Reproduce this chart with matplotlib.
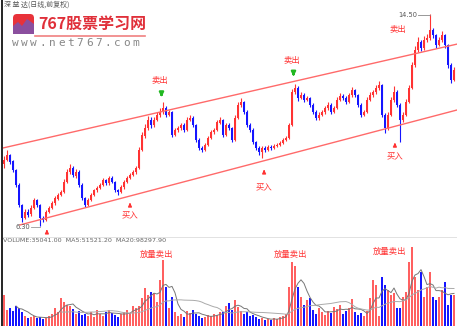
import numpy as np
import pandas as pd
import matplotlib
matplotlib.use("Agg")
import matplotlib.pyplot as plt
from matplotlib.patches import FancyBboxPatch, Polygon

plt.rcParams['font.family'] = ['Noto Sans CJK SC', 'DejaVu Sans']

# daily candles (price)
OPEN = [8.70, 8.85, 9.05, 8.80, 8.45, 7.90, 7.10, 6.62, 6.85, 6.75,
        7.00, 7.30, 7.10, 6.62, 6.55, 6.85, 7.00, 7.18, 7.36, 7.50,
        7.62, 8.00, 8.38, 8.55, 8.25, 8.40, 7.90, 7.38, 7.12, 7.30,
        7.50, 7.68, 7.78, 7.90, 8.08, 7.96, 8.16, 8.00, 7.70, 7.62,
        7.80, 8.00, 8.15, 8.27, 8.38, 8.55, 9.24, 9.80, 10.08, 10.40,
        10.20, 10.40, 10.58, 10.70, 10.87, 10.60, 10.70, 9.82, 10.02, 10.08,
        10.21, 10.02, 10.40, 10.48, 10.20, 9.63, 9.32, 9.25, 9.44, 9.70,
        9.94, 10.02, 10.30, 10.40, 9.82, 10.21, 10.09, 9.63, 10.48, 10.98,
        11.10, 10.71, 10.21, 10.02, 9.55, 9.32, 9.16, 9.32, 9.24, 9.36,
        9.32, 9.40, 9.44, 9.51, 9.63, 9.71, 10.21, 11.49, 11.64, 11.25,
        11.37, 11.18, 11.25, 10.98, 10.71, 10.48, 10.60, 10.71, 10.87, 10.98,
        10.71, 10.87, 11.18, 11.33, 11.25, 11.10, 11.37, 11.56, 11.37, 10.98,
        10.60, 10.71, 11.18, 11.37, 11.49, 11.64, 11.76, 10.60, 10.09, 10.60,
        11.18, 11.49, 10.98, 10.40, 10.60, 11.10, 11.64, 12.53, 13.11, 13.42,
        13.19, 13.50, 13.58, 13.89, 13.69, 13.30, 13.50, 13.69, 13.30, 12.53,
        11.95]
CLOSE = [8.85, 9.05, 8.78, 8.47, 7.89, 7.11, 6.61, 6.84, 6.73, 7.00,
         7.31, 7.11, 6.61, 6.53, 6.84, 7.00, 7.19, 7.38, 7.50, 7.62,
         8.00, 8.39, 8.54, 8.27, 8.39, 7.89, 7.38, 7.11, 7.31, 7.50,
         7.69, 7.77, 7.89, 8.08, 7.96, 8.16, 8.00, 7.69, 7.62, 7.81,
         8.00, 8.16, 8.27, 8.39, 8.54, 9.24, 9.82, 10.09, 10.40, 10.21,
         10.40, 10.60, 10.71, 10.87, 10.60, 10.71, 9.82, 10.02, 10.09, 10.21,
         10.02, 10.40, 10.48, 10.21, 9.63, 9.32, 9.24, 9.44, 9.71, 9.94,
         10.02, 10.32, 10.40, 9.82, 10.21, 10.09, 9.63, 10.48, 10.98, 11.10,
         10.71, 10.21, 10.02, 9.55, 9.32, 9.16, 9.32, 9.24, 9.36, 9.32,
         9.40, 9.44, 9.51, 9.63, 9.71, 10.21, 11.49, 11.64, 11.25, 11.37,
         11.18, 11.25, 10.98, 10.71, 10.48, 10.60, 10.71, 10.87, 10.98, 10.71,
         10.87, 11.18, 11.33, 11.25, 11.10, 11.37, 11.56, 11.37, 10.98, 10.60,
         10.71, 11.18, 11.37, 11.49, 11.64, 11.76, 10.60, 10.09, 10.60, 11.18,
         11.49, 10.98, 10.40, 10.60, 11.10, 11.64, 12.53, 13.11, 13.42, 13.19,
         13.50, 13.58, 13.89, 13.69, 13.30, 13.50, 13.69, 13.30, 12.53, 11.95,
         12.34]
HIGH = [9.00, 9.25, 9.10, 8.85, 8.50, 7.95, 7.15, 6.95, 6.95, 7.10,
        7.40, 7.35, 7.15, 6.70, 6.90, 7.08, 7.25, 7.45, 7.58, 7.70,
        8.10, 8.50, 8.70, 8.62, 8.50, 8.45, 7.95, 7.42, 7.38, 7.58,
        7.75, 7.85, 7.98, 8.15, 8.12, 8.25, 8.22, 8.05, 7.75, 7.88,
        8.08, 8.22, 8.35, 8.45, 8.62, 9.35, 9.95, 10.25, 10.55, 10.50,
        10.50, 10.70, 10.85, 11.10, 10.95, 10.80, 10.75, 10.10, 10.18, 10.30,
        10.28, 10.50, 10.60, 10.55, 10.25, 9.70, 9.40, 9.50, 9.78, 10.00,
        10.10, 10.40, 10.50, 10.45, 10.30, 10.28, 10.15, 10.60, 11.10, 11.25,
        11.15, 10.78, 10.28, 10.08, 9.60, 9.38, 9.40, 9.38, 9.42, 9.42,
        9.46, 9.50, 9.58, 9.70, 9.80, 10.30, 11.60, 11.78, 11.70, 11.50,
        11.45, 11.35, 11.30, 11.05, 10.78, 10.70, 10.80, 10.95, 11.08, 11.05,
        10.95, 11.28, 11.45, 11.40, 11.32, 11.45, 11.68, 11.62, 11.42, 11.05,
        10.80, 11.28, 11.48, 11.58, 11.75, 11.92, 11.80, 10.68, 10.70, 11.28,
        11.70, 11.55, 11.05, 10.72, 11.20, 11.75, 12.65, 13.25, 13.60, 13.50,
        13.65, 13.75, 14.50, 13.98, 13.75, 13.62, 13.85, 13.75, 13.35, 12.60,
        12.45]
LOW = [8.55, 8.80, 8.70, 8.40, 7.80, 7.05, 6.45, 6.58, 6.65, 6.70,
       6.95, 7.05, 6.30, 6.45, 6.50, 6.80, 6.95, 7.12, 7.30, 7.45,
       7.58, 7.95, 8.30, 8.20, 8.15, 7.80, 7.30, 7.05, 7.08, 7.25,
       7.45, 7.62, 7.72, 7.85, 7.90, 7.90, 7.95, 7.62, 7.50, 7.58,
       7.75, 7.95, 8.10, 8.22, 8.32, 8.50, 9.20, 9.70, 10.00, 10.10,
       10.15, 10.35, 10.50, 10.62, 10.50, 10.55, 9.75, 9.78, 9.95, 10.02,
       9.95, 9.98, 10.35, 10.15, 9.55, 9.25, 9.15, 9.20, 9.40, 9.65,
       9.88, 9.98, 10.25, 9.75, 9.78, 10.00, 9.55, 9.60, 10.45, 10.90,
       10.65, 10.15, 9.95, 9.48, 9.25, 9.05, 8.95, 9.18, 9.20, 9.26,
       9.28, 9.35, 9.40, 9.47, 9.58, 9.68, 10.18, 11.40, 11.15, 11.20,
       11.10, 11.12, 10.90, 10.65, 10.40, 10.42, 10.55, 10.65, 10.80, 10.65,
       10.66, 10.82, 11.12, 11.18, 11.02, 11.05, 11.30, 11.30, 10.90, 10.52,
       10.55, 10.66, 11.12, 11.30, 11.42, 11.58, 10.50, 9.90, 10.02, 10.55,
       11.10, 10.90, 9.55, 10.32, 10.55, 11.05, 11.60, 12.45, 13.02, 13.08,
       13.12, 13.42, 13.50, 13.58, 13.20, 13.25, 13.42, 13.20, 12.40, 11.85,
       11.90]
VOLUME = [31, 16, 18, 15, 20, 18, 14, 10, 8, 9,
          10, 8, 9, 7, 8, 10, 12, 18, 14, 28,
          24, 21, 20, 17, 12, 15, 11, 12, 10, 14,
          9, 16, 12, 10, 14, 16, 13, 11, 9, 12,
          14, 16, 13, 20, 18, 20, 28, 38, 31, 34,
          33, 24, 46, 66, 39, 18, 29, 14, 10, 12,
          9, 15, 13, 16, 12, 10, 8, 9, 11, 10,
          12, 11, 14, 14, 20, 23, 16, 26, 19, 15,
          12, 14, 10, 11, 9, 7, 8, 6, 7, 6,
          8, 7, 9, 10, 12, 39, 64, 60, 39, 29,
          21, 26, 28, 16, 12, 18, 14, 11, 15, 13,
          19, 17, 21, 12, 15, 18, 27, 14, 11, 13,
          10, 15, 28, 46, 41, 10, 49, 41, 36, 31,
          33, 18, 18, 29, 34, 64, 79, 49, 36, 54,
          29, 39, 54, 29, 26, 29, 36, 44, 21, 31,
          31]

# channel lines: (index, price) end points
UPPER_X = [-0.33, 151.0]
UPPER_Y = [9.32, 13.34]
LOWER_X = [5.3, 151.0]
LOWER_Y = [6.34, 10.79]

SELL_POINTS = [(52, 11.95, 11.40), (96, 12.69, 12.20), (131.3, 13.89, None)]
BUY_POINTS = [(14.3, None, 6.07), (42, 6.73, 7.11), (86.7, 7.81, 8.39), (130.3, 9.01, 9.43)]
VOL_SELL = [(51, 72), (95.5, 72), (128.5, 75)]

RED = '#ff3333'
BLUE = '#1515ff'

fig = plt.figure(figsize=(4.57, 3.26), dpi=100)
fig.patch.set_facecolor('white')

W, H = 457.0, 326.0
ax = fig.add_axes([3 / W, (H - 236) / H, 454 / W, 226 / H])
axv = fig.add_axes([3 / W, 0, 454 / W, 83 / H])

o = np.array(OPEN)
c = np.array(CLOSE)
hi = np.array(HIGH)
lo = np.array(LOW)
x = np.arange(len(c))
up = c >= o
colors = np.where(up, RED, BLUE)

ax.vlines(x, lo, hi, colors=colors, lw=0.8)
body = np.where(np.abs(c - o) < 0.03, 0.03, c - o)
ax.bar(x, body, bottom=o, width=0.75, color=colors, linewidth=0)

ax.plot(UPPER_X, UPPER_Y, color='#ff6a6a', lw=1.0)
ax.plot(LOWER_X, LOWER_Y, color='#ff6a6a', lw=1.0)

ax.set_xlim(-0.333, 151)
ax.set_ylim(5.913, 14.66)
ax.axis('off')

for sx, ty, ay in SELL_POINTS:
    ax.text(sx, ty, '卖出', color=RED, fontsize=6, ha='center', va='center')
    if ay is not None:
        ax.annotate('', xy=(sx + 0.5, ay - 0.22), xytext=(sx + 0.5, ay + 0.12),
                    arrowprops=dict(arrowstyle='-|>', color='#22b822', lw=1.6, mutation_scale=6))
for bx, ty, ay in BUY_POINTS:
    if ty is not None:
        ax.text(bx, ty, '买入', color=RED, fontsize=6, ha='center', va='center')
    ax.annotate('', xy=(bx, ay + 0.2), xytext=(bx, ay - 0.12),
                arrowprops=dict(arrowstyle='-|>', color=RED, lw=1.0, mutation_scale=5))

# high / low markers
imax = int(np.argmax(hi))
imin = int(np.argmin(lo))
ax.plot([imax - 4, imax], [hi[imax] - 0.02, hi[imax] - 0.02], color='#888888', lw=0.6)
ax.text(imax - 4.3, hi[imax] - 0.02, f'{hi[imax]:.2f}', color='#555555', fontsize=4.8,
        ha='right', va='center', family='DejaVu Sans')
ax.plot([imin - 3, imin], [lo[imin] - 0.05, lo[imin] - 0.05], color='#999999', lw=0.6)
ax.text(imin - 3.3, lo[imin] - 0.05, f'{lo[imin]:.2f}', color='#555555', fontsize=4.8,
        ha='right', va='center', family='DejaVu Sans')

# volume panel
v = pd.Series(VOLUME, dtype=float)
axv.bar(x, v, width=0.75, color=np.where(up, '#ff6060', BLUE), linewidth=0)
axv.plot(x, v.rolling(5).mean(), color='#777777', lw=0.7)
axv.plot(x, v.rolling(20).mean(), color='#aaaaaa', lw=0.7)
for vx, vy in VOL_SELL:
    axv.text(vx, vy, '放量卖出', color=RED, fontsize=6, ha='center', va='center')
axv.set_xlim(-0.333, 151)
axv.set_ylim(0, 83)
axv.axis('off')

fig.text(3 / W, 1 - 241 / H, 'VOLUME:35041.00  MA5:51521.20  MA20:98297.90',
         fontsize=4.6, color='#666666', va='center', family='DejaVu Sans')
fig.text(4 / W, 1 - 5 / H, '深 益 达(日线,前复权)', fontsize=5, color='#555555', va='center')

# left border
fig.add_artist(plt.Line2D([2 / W, 2 / W], [0, 1], color='black', lw=1.2))
fig.add_artist(plt.Line2D([3 / W, 1], [1 - 237 / H, 1 - 237 / H], color='#dddddd', lw=0.6))

# site logo
logo = fig.add_axes([0, 1 - 50 / H, 160 / W, 50 / H])
logo.set_xlim(0, 160)
logo.set_ylim(50, 0)
logo.axis('off')
logo.add_patch(FancyBboxPatch((13, 14), 21, 20, boxstyle='round,pad=0,rounding_size=4',
                              facecolor='#e8323a', edgecolor='none'))
logo.add_patch(Polygon([[13, 34], [13, 26], [18, 22], [22, 26], [27, 19], [34, 24], [34, 34]],
                       closed=True, facecolor='#8b4f9e', edgecolor='none'))
logo.text(38, 24, '767股票学习网', color='#e0303a', fontsize=11.5, fontweight='bold', va='center', ha='left')
logo.plot([35, 145], [36, 36], color='#f08080', lw=1.2)
for k, ch in enumerate('www.net767.com'):
    logo.text(15 + k * 9.3, 43, ch, color='#888888', fontsize=8, va='center', ha='center',
              family='DejaVu Sans Mono')

fig.savefig('out.png', dpi=100, facecolor='white')
